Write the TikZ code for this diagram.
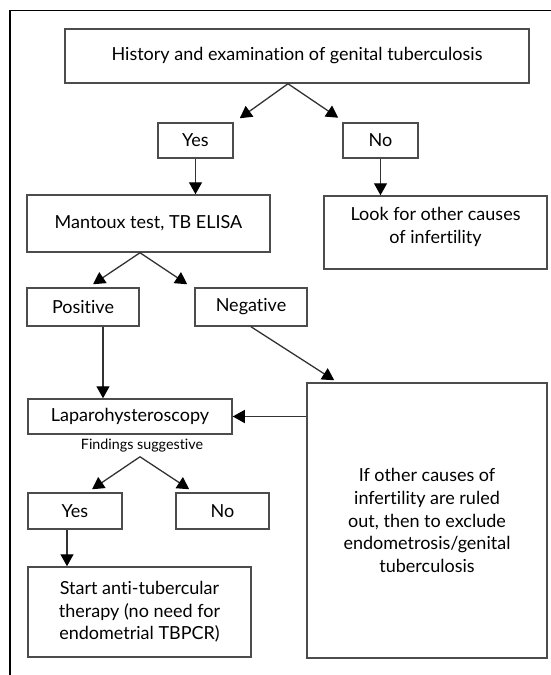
\documentclass[tikz,border=0pt]{standalone}
\usepackage{fontspec}
\setmainfont{Lato}[Ligatures=NoCommon]
\usepackage{tikz}
\usetikzlibrary{arrows.meta}

\begin{document}
\begin{tikzpicture}[x=1pt, y=-1pt,
	box/.style={draw=black!70, line width=1.5pt, inner sep=2pt, align=center,
		font=\fontsize{18}{22.6}\selectfont},
	flow/.style={draw=black!80, line width=1.3pt, -{Triangle[width=13pt,length=12pt,color=black]}}]
					\useasboundingbox (0,0) rectangle (551,675);
					\draw[line width=1.2pt] (551,10.5) -- (10,10.5) -- (10,675);

					% Left column
					\node[box, minimum width=464pt, minimum height=54pt] (hist) at (297,56) {History and examination of genital tuberculosis};
					\node[box, minimum width=75pt, minimum height=35pt] (yesA) at (195.5,140.5) {Yes};
					\node[box, minimum width=75pt, minimum height=35pt] (noA) at (380.5,140.5) {No};
					\node[box, minimum width=243pt, minimum height=57pt] (mantoux) at (148.5,223.5) {Mantoux test, TB ELISA};
					\node[box, minimum width=112pt, minimum height=38pt] (pos) at (83,307) {Positive};
					\node[box, minimum width=112pt, minimum height=38pt] (neg) at (251,307) {Negative};
					\node[box, minimum width=204pt, minimum height=35pt] (lap) at (130,416.5) {Laparohysteroscopy};
					\node[inner sep=1pt, font=\fontsize{14.3}{16}\selectfont] (find) at (142,446) {Findings suggestive};
					\node[box, minimum width=94pt, minimum height=36pt] (yesB) at (75,511) {Yes};
					\node[box, minimum width=93pt, minimum height=36pt] (noB) at (222.5,511) {No};
					\node[box, minimum width=223pt, minimum height=90pt] (start) at (139.5,612) {Start anti-tubercular\\therapy (no need for\\endometrial TBPCR)};

					% Right column
					\node[box, minimum width=223pt, minimum height=73pt, text depth=14pt] (look) at (435.5,232.5) {Look for other causes\\of infertility};
					\node[box, minimum width=240pt, minimum height=275pt] (excl) at (427,520.5) {If other causes of\\infertility are ruled\\out, then to exclude\\endometrosis/genital\\tuberculosis};

					% Connect the nodes
					\draw[flow] ([xshift=-9pt]hist.south) -- ([xshift=6pt,yshift=4pt]yesA.north east);
					\draw[flow] ([xshift=-9pt]hist.south) -- ([xshift=-4pt,yshift=4.5pt]noA.north west);
					\draw[flow] (yesA.south) -- (yesA.south |- mantoux.north);
					\draw[flow] (noA.south) -- (noA.south |- look.north);
					\draw[flow] ([xshift=-8.5pt]mantoux.south) -- ([xshift=10pt,yshift=3pt]pos.north);
					\draw[flow] ([xshift=-8.5pt]mantoux.south) -- ([xshift=-7pt,yshift=3pt]neg.north west);
					\draw[flow] ([xshift=20pt]pos.south) -- ([xshift=20pt]pos.south |- lap.north);
					\draw[flow] (neg.south) -- ([xshift=28pt,yshift=2pt]excl.north west);
					\draw[flow] (excl.west |- lap.east) -- (lap.east);
					\draw[flow] ([xshift=-2pt,yshift=-3pt]find.south) -- ([xshift=17pt,yshift=3pt]yesB.north);
					\draw[flow] ([xshift=-2pt,yshift=-3pt]find.south) -- ([xshift=14pt,yshift=3pt]noB.north west);
					\draw[flow] ([xshift=-8pt]yesB.south) -- ([xshift=-8pt]yesB.south |- start.north);
\end{tikzpicture}
\end{document}
